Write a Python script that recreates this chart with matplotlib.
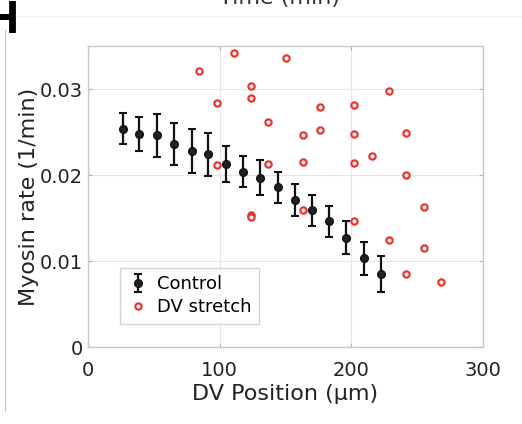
import numpy as np
import matplotlib.pyplot as plt
from matplotlib.lines import Line2D

plt.rcParams['font.family'] = ['DejaVu Sans']

# Control: mean myosin rate with error bars
ctrl_x = [26.3, 39.0, 52.4, 65.5, 78.7, 91.3, 104.6, 117.7, 130.8, 144.0,
          157.0, 170.0, 183.2, 196.1, 209.3, 222.5]
ctrl_y = [0.0254, 0.0248, 0.0246, 0.0236, 0.0228, 0.0224, 0.0213, 0.0204,
          0.0197, 0.0186, 0.0171, 0.0159, 0.0146, 0.0127, 0.0103, 0.0085]
ctrl_err = [0.0018, 0.0020, 0.0025, 0.0024, 0.0026, 0.0025, 0.0021, 0.0018,
            0.0020, 0.0018, 0.0019, 0.0018, 0.0018, 0.0019, 0.0019, 0.0021]

# DV stretch: individual points
dv_x = [84.5, 97.7, 97.7, 110.6, 123.8, 123.8, 123.8, 123.8, 136.9, 136.9,
        150.1, 163.0, 163.0, 163.0, 176.2, 176.2, 202.2, 202.2, 202.2, 202.2,
        215.6, 228.5, 228.5, 241.7, 241.7, 241.7, 254.9, 254.9, 267.8]
dv_y = [0.0321, 0.0284, 0.0212, 0.0342, 0.0304, 0.0290, 0.0154, 0.0151, 0.0262, 0.0213,
        0.0336, 0.0247, 0.0215, 0.0159, 0.0279, 0.0252, 0.0281, 0.0248, 0.0214, 0.0147,
        0.0222, 0.0298, 0.0125, 0.0249, 0.0200, 0.0085, 0.0163, 0.0115, 0.0076]

fig = plt.figure(figsize=(5.22, 4.24), dpi=100)
ax = fig.add_axes([0.1686, 0.1816, 0.7567, 0.7099])

ctrl = ax.errorbar(ctrl_x, ctrl_y, yerr=ctrl_err, fmt='o', color='#111111', ms=5.5,
                   mfc='#222222', mec='#111111', elinewidth=1.6, capsize=2.6,
                   capthick=1.5, label='Control', zorder=3)
dv, = ax.plot(dv_x, dv_y, 'o', ls='none', ms=4.5, mfc='white', mec='#e8362c',
              mew=1.6, label='DV stretch', zorder=2)

ax.set_xlim(0, 300)
ax.set_ylim(0, 0.035)
ax.set_xticks([0, 100, 200, 300])
ax.set_yticks([0, 0.01, 0.02, 0.03])
ax.set_yticklabels(['0', '0.01', '0.02', '0.03'])
ax.grid(True, color='#e6e6e6', lw=0.8)
ax.set_axisbelow(True)
for s in ax.spines.values():
    s.set_color('#c8c8c8')
    s.set_linewidth(1.0)
ax.tick_params(direction='in', length=3, color='#b0b0b0', labelsize=14,
               labelcolor='#222222', top=True, right=True)
ax.tick_params(axis='x', pad=10)
ax.tick_params(axis='y', pad=3.5)

ax.set_xlabel('DV Position (μm)', fontsize=16, color='#222222', labelpad=3)
ax.set_ylabel('Myosin rate (1/min)', fontsize=16, color='#222222', labelpad=1)

leg = ax.legend([ctrl, dv], ['Control', 'DV stretch'], loc='upper left',
                bbox_to_anchor=(0.081, 0.2635), fontsize=13, frameon=True,
                fancybox=False, edgecolor='#c8c8c8', handlelength=1.2,
                handletextpad=0.45, borderpad=0.4, labelspacing=0.3,
                borderaxespad=0)
leg.get_frame().set_linewidth(1.0)

# clipped panel letter and title from neighbouring panel
fig.text(-15.5 / 522, 1 - 33 / 424, 'H', fontsize=34, fontweight='bold',
         family='Liberation Sans', ha='left', va='baseline', color='black')
fig.text(0.536, 1 - 4 / 424, 'Time (min)', fontsize=16, ha='center',
         va='baseline', color='#333333')
fig.add_artist(Line2D([5 / 522, 5 / 522], [1 - 411 / 424, 1 - 30 / 424],
                      color='#c0c0c0', lw=0.8))
fig.add_artist(Line2D([15 / 522, 1], [1 - 16 / 424, 1 - 16 / 424],
                      color='#f0f0f0', lw=0.8))

fig.savefig('out.png', dpi=100)
